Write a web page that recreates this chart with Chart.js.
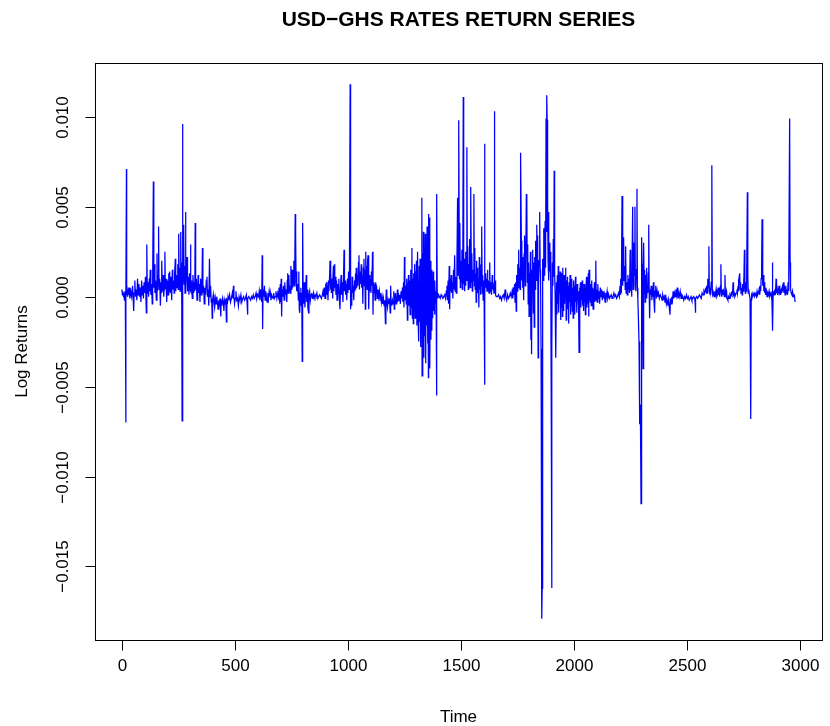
<!DOCTYPE html>
<html>
<head>
<meta charset="utf-8">
<script src="https://cdn.jsdelivr.net/npm/chart.js@4.4.0/dist/chart.umd.min.js"></script>
<style>
html,body{margin:0;padding:0;background:#ffffff;}
#wrap{width:830px;height:726px;position:relative;}
</style>
</head>
<body>
<div id="wrap"><canvas id="c" width="830" height="726"></canvas></div>
<script>
const timeIndex = [
1,3,5,8,10,12,14,16,18,19,
21,22,24,26,28,30,33,36,40,44,
48,50,53,55,58,61,64,67,70,73,
76,79,82,85,88,91,94,96,99,102,
105,107,109,111,113,116,119,122,124,126,
129,132,135,137,140,142,145,147,150,153,
156,158,161,163,165,168,171,174,176,178,
180,183,186,189,191,193,196,199,202,205,
208,210,212,215,218,221,224,226,229,232,
234,237,239,242,245,248,250,252,254,256,
258,261,263,265,267,268,270,271,273,274,
276,278,280,282,284,286,289,291,294,297,
300,302,304,306,309,312,315,318,321,323,
325,327,330,333,336,338,340,343,346,349,
352,355,357,359,362,365,368,371,374,377,
379,382,385,388,391,393,396,398,400,402,
405,408,411,414,417,420,423,426,429,432,
435,438,440,443,446,449,452,454,457,460,
463,465,468,470,473,477,481,485,489,492,
494,496,499,502,505,508,512,516,519,523,
527,531,535,539,543,547,551,554,556,558,
562,566,570,574,578,582,586,590,594,597,
601,605,608,611,614,617,619,621,623,625,
628,631,634,637,640,643,646,649,652,655,
657,660,663,666,669,672,675,678,682,686,
690,693,696,699,701,703,705,707,709,712,
715,718,721,724,727,730,732,734,736,739,
741,744,746,748,750,752,754,756,758,761,
763,765,767,769,771,773,775,778,781,783,
785,787,789,792,794,796,798,800,802,804,
807,810,813,816,818,821,823,826,828,831,
834,837,840,843,845,848,851,855,859,863,
867,871,875,879,883,887,890,893,896,899,
901,903,905,907,910,912,914,916,919,921,
923,925,927,930,932,934,936,938,940,942,
945,947,950,952,955,957,960,962,965,967,
970,972,975,978,980,983,985,988,990,993,
995,998,1000,1003,1005,1007,1010,1011,1013,1015,
1017,1019,1021,1024,1026,1029,1031,1034,1035,1037,
1039,1042,1044,1047,1049,1051,1054,1056,1059,1061,
1064,1066,1068,1071,1073,1075,1077,1079,1081,1083,
1085,1087,1089,1091,1093,1095,1097,1100,1102,1104,
1106,1109,1111,1113,1115,1118,1120,1122,1124,1127,
1130,1133,1136,1139,1142,1145,1148,1151,1154,1157,
1160,1163,1166,1168,1170,1172,1175,1178,1181,1184,
1187,1189,1191,1194,1197,1200,1203,1205,1207,1210,
1213,1216,1219,1221,1223,1226,1229,1232,1235,1238,
1241,1243,1246,1248,1250,1252,1255,1258,1260,1263,
1265,1268,1270,1273,1275,1278,1280,1283,1285,1287,
1289,1291,1293,1295,1297,1299,1301,1303,1305,1308,
1310,1313,1315,1317,1319,1321,1323,1325,1327,1328,
1330,1332,1334,1336,1338,1340,1342,1344,1346,1348,
1350,1352,1354,1356,1357,1359,1361,1363,1365,1367,
1369,1371,1373,1375,1377,1379,1381,1383,1385,1387,
1390,1392,1393,1395,1398,1401,1405,1408,1412,1416,
1420,1424,1428,1432,1435,1438,1440,1443,1445,1448,
1450,1452,1454,1457,1459,1462,1464,1467,1469,1472,
1474,1477,1479,1482,1485,1487,1489,1491,1493,1495,
1497,1499,1501,1504,1506,1508,1510,1512,1514,1516,
1518,1520,1522,1524,1526,1528,1530,1532,1534,1536,
1538,1540,1542,1544,1546,1548,1550,1552,1554,1557,
1559,1561,1563,1565,1567,1569,1571,1573,1575,1577,
1579,1581,1583,1585,1587,1589,1591,1592,1594,1596,
1598,1600,1602,1604,1605,1606,1608,1610,1612,1615,
1617,1619,1621,1624,1627,1629,1632,1635,1638,1640,
1643,1646,1648,1649,1651,1653,1656,1661,1666,1671,
1675,1679,1683,1687,1691,1695,1698,1702,1706,1710,
1714,1718,1722,1726,1729,1732,1734,1737,1739,1742,
1744,1746,1748,1751,1753,1755,1757,1759,1761,1762,
1765,1767,1769,1771,1773,1775,1777,1779,1780,1782,
1784,1786,1789,1791,1793,1795,1797,1799,1801,1803,
1805,1807,1809,1811,1812,1814,1816,1818,1820,1822,
1824,1826,1828,1830,1832,1835,1837,1839,1841,1843,
1845,1848,1850,1852,1854,1856,1858,1859,1860,1862,
1864,1866,1868,1870,1872,1874,1876,1878,1880,1881,
1883,1885,1887,1889,1891,1893,1895,1897,1899,1901,
1902,1904,1906,1908,1910,1912,1914,1916,1918,1920,
1922,1924,1926,1928,1930,1932,1934,1936,1938,1940,
1942,1944,1946,1948,1950,1952,1954,1956,1958,1960,
1963,1965,1967,1969,1970,1972,1974,1976,1978,1980,
1982,1984,1986,1988,1990,1992,1994,1996,1998,2000,
2002,2004,2006,2008,2010,2012,2014,2016,2018,2020,
2022,2024,2026,2028,2030,2032,2034,2036,2038,2040,
2042,2044,2046,2048,2050,2052,2055,2057,2059,2061,
2063,2065,2066,2068,2070,2072,2074,2076,2078,2080,
2082,2084,2086,2088,2090,2092,2094,2096,2098,2100,
2102,2105,2107,2110,2113,2116,2119,2122,2125,2128,
2131,2134,2137,2140,2143,2146,2149,2153,2157,2160,
2164,2168,2172,2176,2180,2184,2188,2192,2196,2200,
2203,2205,2207,2209,2212,2214,2216,2219,2221,2224,
2226,2228,2230,2233,2235,2238,2240,2243,2245,2248,
2250,2252,2254,2256,2259,2261,2264,2267,2269,2271,
2273,2275,2278,2280,2282,2284,2287,2290,2293,2296,
2298,2299,2301,2303,2305,2307,2308,2310,2312,2314,
2316,2318,2320,2322,2324,2326,2328,2330,2332,2334,
2336,2338,2341,2344,2346,2348,2351,2353,2356,2358,
2361,2364,2367,2370,2373,2377,2381,2385,2389,2392,
2396,2399,2402,2405,2408,2411,2415,2418,2421,2424,
2426,2429,2432,2435,2438,2441,2444,2447,2450,2453,
2456,2459,2462,2465,2469,2473,2477,2481,2485,2489,
2493,2497,2501,2505,2509,2513,2517,2521,2525,2529,
2533,2535,2536,2538,2542,2546,2550,2554,2558,2562,
2566,2570,2574,2577,2580,2583,2586,2588,2590,2592,
2594,2596,2598,2600,2602,2604,2606,2609,2611,2613,
2616,2619,2622,2625,2628,2631,2634,2637,2639,2642,
2644,2647,2649,2651,2653,2656,2658,2661,2664,2667,
2669,2671,2674,2677,2680,2683,2686,2689,2692,2695,
2698,2701,2703,2705,2708,2711,2714,2717,2720,2722,
2725,2726,2729,2732,2734,2736,2738,2741,2743,2745,
2747,2749,2751,2753,2755,2757,2759,2761,2763,2766,
2768,2770,2772,2775,2778,2781,2783,2785,2788,2791,
2794,2797,2800,2803,2806,2809,2812,2815,2818,2821,
2823,2825,2827,2829,2831,2833,2835,2837,2839,2841,
2843,2845,2847,2850,2853,2856,2859,2862,2865,2868,
2871,2873,2875,2877,2878,2880,2882,2884,2887,2890,
2893,2895,2898,2900,2903,2906,2908,2911,2913,2915,
2918,2921,2923,2926,2928,2931,2933,2936,2938,2941,
2944,2946,2948,2950,2953,2955,2957,2960,2963,2966,
2969,2972,2974,2977
];
const logReturns = [
0.0004,0.0001,0.0003,0.0000,0.0002,-0.0002,0.0003,0.0001,-0.0070,0.0002,
0.0071,0.0001,0.0004,0.0000,0.0003,0.0001,0.0005,-0.0001,0.0003,0.0000,
0.0006,0.0001,-0.0008,0.0002,0.0009,0.0000,0.0004,-0.0002,0.0010,0.0001,
0.0007,0.0000,0.0005,-0.0003,0.0009,0.0001,0.0006,-0.0001,0.0008,0.0002,
0.0011,0.0000,-0.0009,0.0029,0.0002,0.0008,0.0000,0.0010,0.0003,0.0015,
0.0001,0.0007,-0.0004,0.0012,0.0064,0.0005,0.0018,0.0002,0.0009,-0.0002,
0.0024,0.0003,0.0011,0.0039,0.0004,0.0010,-0.0005,0.0008,0.0002,0.0020,
0.0003,0.0012,0.0000,0.0007,0.0025,0.0004,0.0010,-0.0003,0.0009,0.0001,
0.0013,0.0003,0.0014,0.0002,0.0011,-0.0002,0.0015,0.0004,0.0009,0.0002,
0.0013,0.0021,0.0003,0.0012,0.0005,0.0018,0.0004,0.0035,0.0006,0.0016,
0.0003,0.0036,0.0005,0.0019,-0.0069,0.0004,0.0096,0.0006,0.0021,0.0040,
0.0007,0.0017,0.0002,0.0047,0.0004,0.0014,0.0022,0.0003,0.0011,0.0001,
0.0013,0.0004,0.0029,0.0003,0.0009,-0.0001,0.0012,0.0002,0.0008,0.0003,
0.0041,0.0004,0.0010,-0.0002,0.0006,0.0012,0.0002,0.0007,-0.0003,0.0010,
0.0001,0.0008,0.0027,0.0002,0.0006,-0.0004,0.0005,0.0001,0.0009,0.0011,
0.0000,0.0004,-0.0005,0.0021,0.0000,0.0006,-0.0003,-0.0001,-0.0012,-0.0002,
0.0001,-0.0003,-0.0006,-0.0001,-0.0004,0.0000,-0.0003,-0.0007,-0.0002,-0.0004,
-0.0001,-0.0011,-0.0002,-0.0005,-0.0001,-0.0003,-0.0008,-0.0002,-0.0004,-0.0001,
-0.0014,-0.0002,-0.0003,0.0000,-0.0002,0.0001,-0.0003,-0.0001,0.0002,-0.0001,
0.0006,0.0000,-0.0004,-0.0001,0.0003,-0.0002,-0.0001,-0.0005,0.0000,-0.0002,
0.0001,-0.0003,-0.0001,0.0000,-0.0002,-0.0001,0.0001,-0.0003,-0.0010,-0.0001,
0.0000,-0.0001,-0.0002,0.0000,-0.0001,0.0001,-0.0001,0.0000,0.0002,-0.0001,
0.0001,0.0000,0.0003,-0.0002,0.0004,0.0001,-0.0003,0.0023,-0.0018,0.0004,
0.0000,0.0006,-0.0002,0.0003,0.0000,-0.0003,0.0002,-0.0001,0.0003,0.0000,
0.0002,-0.0002,0.0001,0.0000,-0.0001,0.0002,-0.0001,0.0000,0.0003,-0.0001,
0.0002,0.0000,0.0005,-0.0004,0.0007,-0.0003,0.0010,-0.0011,0.0004,0.0000,
0.0006,-0.0002,0.0008,0.0001,0.0004,-0.0003,0.0009,0.0013,0.0002,0.0012,
0.0003,0.0006,0.0002,0.0017,0.0004,0.0011,0.0015,0.0005,0.0009,0.0020,
0.0006,0.0012,0.0046,0.0033,0.0008,0.0014,0.0003,0.0007,-0.0002,0.0014,
-0.0007,-0.0009,0.0002,0.0005,-0.0005,0.0002,-0.0036,0.0041,0.0005,-0.0004,
0.0008,-0.0006,0.0003,0.0012,-0.0003,0.0004,-0.0006,-0.0009,0.0001,0.0003,
-0.0002,0.0001,0.0002,-0.0001,0.0000,0.0002,-0.0001,0.0001,0.0000,0.0002,
-0.0001,0.0000,0.0001,0.0000,-0.0001,0.0001,0.0003,0.0000,0.0005,-0.0001,
0.0007,0.0002,0.0008,0.0001,0.0006,-0.0002,0.0009,0.0003,0.0011,0.0020,
0.0004,0.0013,0.0002,0.0010,-0.0001,0.0008,0.0017,0.0003,0.0018,0.0005,
0.0011,0.0001,0.0009,-0.0002,0.0007,0.0002,0.0010,0.0000,-0.0007,0.0004,
0.0012,0.0001,0.0008,-0.0003,0.0006,0.0026,0.0003,0.0009,0.0001,0.0007,
-0.0002,0.0010,0.0002,0.0014,0.0004,0.0020,0.0118,0.0003,-0.0007,0.0004,
-0.0005,0.0011,0.0002,0.0006,-0.0002,0.0009,0.0003,0.0013,0.0004,0.0016,
0.0005,0.0012,0.0006,0.0019,0.0023,0.0004,0.0014,0.0007,0.0018,0.0005,
0.0012,-0.0004,0.0016,0.0021,0.0006,0.0015,-0.0007,0.0025,0.0008,0.0017,
0.0004,0.0020,0.0023,0.0005,-0.0007,0.0012,0.0003,0.0010,0.0002,0.0014,
0.0006,0.0025,-0.0010,0.0008,0.0002,0.0007,-0.0002,0.0008,0.0003,0.0005,
-0.0001,0.0004,0.0000,0.0003,-0.0002,0.0002,-0.0003,0.0000,-0.0004,-0.0001,
-0.0005,-0.0002,-0.0015,-0.0002,0.0004,-0.0003,-0.0006,-0.0002,-0.0004,-0.0001,
-0.0009,0.0006,-0.0003,-0.0005,-0.0002,-0.0004,0.0003,-0.0007,-0.0002,0.0002,
-0.0004,-0.0001,0.0004,-0.0003,0.0002,-0.0002,0.0001,-0.0004,0.0003,-0.0001,
0.0005,-0.0003,0.0008,-0.0006,0.0022,-0.0002,0.0006,-0.0004,0.0010,-0.0013,
0.0004,0.0012,-0.0005,0.0009,-0.0010,0.0015,-0.0006,0.0027,-0.0012,0.0010,
-0.0015,0.0013,-0.0008,0.0018,-0.0012,0.0014,-0.0009,0.0020,-0.0016,0.0025,
-0.0011,-0.0025,0.0017,-0.0014,0.0021,-0.0028,0.0019,-0.0020,0.0055,-0.0044,
0.0024,-0.0018,0.0036,-0.0034,0.0028,-0.0022,0.0035,-0.0037,0.0030,-0.0016,
0.0039,-0.0026,0.0032,-0.0045,0.0046,-0.0030,0.0044,-0.0040,0.0020,-0.0024,
0.0015,-0.0019,0.0010,-0.0012,0.0014,-0.0008,0.0006,-0.0010,0.0009,-0.0004,
0.0003,-0.0055,0.0057,0.0002,-0.0001,0.0001,0.0000,-0.0001,0.0001,0.0000,
-0.0001,0.0000,0.0001,-0.0001,0.0003,0.0006,-0.0002,0.0009,-0.0004,0.0017,
-0.0007,0.0010,0.0003,0.0012,0.0002,0.0008,-0.0001,0.0015,0.0004,0.0023,
0.0003,0.0011,0.0002,0.0018,0.0055,0.0012,0.0030,0.0098,0.0010,0.0041,
0.0005,0.0020,0.0008,0.0026,0.0004,0.0016,0.0111,0.0007,0.0021,0.0003,
0.0014,0.0006,0.0025,0.0009,0.0083,0.0012,0.0028,0.0004,0.0018,0.0007,
0.0032,0.0005,0.0019,0.0061,0.0008,0.0024,0.0003,0.0015,0.0009,0.0057,
0.0006,0.0027,0.0004,0.0013,-0.0003,0.0020,0.0005,0.0016,0.0002,0.0010,
-0.0006,0.0022,0.0004,0.0014,0.0001,0.0018,0.0006,0.0039,0.0002,0.0012,
-0.0002,0.0009,0.0003,-0.0049,0.0085,0.0002,0.0013,0.0005,0.0010,0.0003,
0.0015,0.0004,0.0009,0.0002,0.0019,0.0003,0.0008,0.0001,0.0012,0.0004,
0.0006,0.0002,0.0103,0.0003,0.0009,0.0001,0.0000,0.0000,0.0001,-0.0001,
0.0000,-0.0002,0.0000,0.0001,-0.0001,0.0004,0.0000,-0.0002,0.0001,-0.0001,
0.0000,0.0002,0.0000,0.0003,-0.0001,0.0005,0.0001,0.0007,-0.0003,0.0008,
-0.0008,0.0012,0.0003,0.0018,0.0005,0.0026,0.0008,0.0016,0.0004,0.0034,
0.0080,0.0031,0.0009,0.0022,0.0005,0.0017,-0.0002,0.0024,0.0011,0.0034,
0.0006,0.0015,0.0057,0.0054,0.0008,0.0029,-0.0004,0.0019,-0.0011,0.0013,
-0.0007,0.0025,-0.0024,0.0006,-0.0032,0.0015,0.0003,0.0026,-0.0009,0.0019,
-0.0017,0.0022,0.0004,0.0031,0.0009,0.0040,0.0018,0.0034,-0.0034,0.0012,
0.0020,0.0047,0.0015,0.0006,-0.0029,-0.0101,-0.0179,-0.0162,-0.0076,0.0021,
0.0009,0.0038,0.0012,0.0024,0.0042,0.0016,0.0099,0.0036,0.0112,0.0098,
0.0053,0.0020,0.0047,0.0009,0.0030,0.0014,0.0025,0.0005,-0.0060,-0.0162,
-0.0028,0.0019,0.0006,0.0032,0.0011,0.0070,0.0014,0.0002,-0.0016,-0.0034,
0.0008,-0.0010,0.0012,-0.0004,0.0017,-0.0009,0.0010,0.0002,0.0014,-0.0013,
0.0008,-0.0006,0.0013,-0.0011,0.0016,0.0003,-0.0008,0.0012,-0.0004,0.0010,
0.0016,-0.0013,0.0009,-0.0002,0.0011,-0.0007,0.0006,-0.0015,0.0008,-0.0003,
0.0012,-0.0010,0.0007,-0.0005,0.0010,-0.0008,0.0005,-0.0012,0.0009,-0.0006,
0.0006,-0.0010,0.0011,-0.0003,0.0004,-0.0009,0.0007,-0.0002,0.0003,-0.0007,
-0.0031,0.0005,-0.0004,0.0008,-0.0006,0.0006,-0.0002,0.0009,-0.0005,0.0004,
-0.0008,0.0007,-0.0003,0.0005,-0.0010,0.0003,0.0011,-0.0006,0.0008,-0.0004,
0.0013,-0.0011,0.0015,-0.0002,0.0006,-0.0003,0.0007,-0.0005,0.0009,-0.0002,
0.0005,-0.0007,0.0004,-0.0001,0.0008,-0.0003,0.0006,0.0020,-0.0002,0.0004,
-0.0003,0.0007,-0.0001,0.0003,-0.0004,0.0005,0.0000,0.0004,-0.0002,0.0003,
-0.0001,0.0001,-0.0003,0.0002,0.0000,0.0003,-0.0001,0.0001,-0.0001,0.0000,
0.0001,-0.0001,0.0000,0.0002,0.0000,0.0001,-0.0001,0.0000,0.0002,0.0000,
0.0006,0.0001,0.0010,0.0002,0.0056,0.0035,0.0006,0.0033,0.0009,0.0017,
0.0004,0.0028,0.0002,0.0008,0.0001,0.0012,0.0004,0.0010,0.0002,0.0026,
0.0003,0.0009,0.0000,0.0006,0.0050,0.0004,0.0030,0.0012,0.0050,0.0006,
0.0003,0.0015,0.0060,0.0005,-0.0002,-0.0010,-0.0025,-0.0071,-0.0060,-0.0115,
-0.0030,0.0033,0.0018,-0.0005,-0.0040,0.0008,0.0030,0.0002,0.0015,-0.0003,
0.0012,0.0004,0.0016,-0.0001,0.0007,0.0002,0.0013,0.0040,0.0003,-0.0012,
0.0004,0.0001,0.0006,-0.0002,0.0004,0.0000,0.0008,-0.0002,-0.0009,0.0003,
0.0006,-0.0001,0.0003,0.0000,0.0002,-0.0001,0.0001,0.0000,-0.0002,0.0001,
-0.0001,0.0000,-0.0003,0.0001,-0.0004,-0.0002,-0.0005,-0.0002,-0.0006,-0.0010,
-0.0001,-0.0004,0.0000,-0.0002,0.0003,-0.0001,0.0002,0.0000,0.0004,0.0001,
0.0005,-0.0001,0.0002,0.0000,0.0003,-0.0001,0.0001,0.0000,-0.0002,0.0000,
-0.0001,0.0001,-0.0001,0.0000,-0.0002,-0.0001,0.0000,-0.0002,-0.0001,0.0000,
-0.0001,-0.0003,-0.0009,-0.0001,0.0000,-0.0001,0.0000,0.0001,0.0000,-0.0001,
0.0002,0.0001,0.0003,0.0002,0.0004,0.0003,0.0006,0.0002,0.0010,0.0004,
0.0007,0.0028,0.0003,0.0002,0.0005,0.0001,0.0008,0.0073,0.0004,0.0001,
0.0002,0.0000,0.0003,0.0001,0.0004,0.0000,0.0001,0.0005,0.0001,0.0003,
0.0000,0.0006,0.0018,0.0002,0.0000,0.0004,0.0001,0.0003,0.0000,0.0012,
0.0002,0.0001,0.0003,-0.0001,-0.0002,0.0000,-0.0001,0.0001,0.0000,0.0002,
0.0001,0.0003,0.0008,0.0001,0.0002,0.0000,0.0001,0.0002,0.0004,0.0002,
0.0006,0.0003,0.0009,0.0013,0.0004,0.0008,0.0002,0.0005,0.0001,0.0007,
0.0003,0.0010,0.0004,0.0026,0.0006,0.0002,0.0008,0.0003,0.0013,0.0058,
0.0012,0.0002,0.0004,0.0001,-0.0001,-0.0068,-0.0002,0.0001,0.0000,0.0002,
0.0001,0.0000,0.0002,0.0001,0.0000,0.0003,0.0001,0.0002,0.0004,0.0001,
0.0006,0.0003,0.0010,0.0014,0.0043,0.0011,0.0006,0.0012,0.0003,0.0008,
0.0002,0.0005,0.0001,0.0003,0.0000,0.0002,0.0001,0.0003,0.0000,0.0001,
0.0002,0.0000,-0.0003,0.0019,-0.0019,0.0002,0.0003,0.0001,0.0004,0.0001,
0.0010,0.0002,0.0004,0.0001,0.0003,0.0006,0.0002,0.0003,0.0001,0.0004,
0.0002,0.0005,0.0003,0.0008,0.0002,0.0004,0.0001,0.0006,0.0002,0.0004,
0.0001,0.0008,0.0003,0.0012,0.0099,0.0019,0.0004,0.0002,0.0001,0.0003,
0.0000,0.0001,0.0001,-0.0003
];
const xTicks = [0, 500, 1000, 1500, 2000, 2500, 3000];
const xTickLabels = ["0", "500", "1000", "1500", "2000", "2500", "3000"];
const yTicks = [-0.015, -0.010, -0.005, 0.000, 0.005, 0.010];
const yTickLabels = ["\u22120.015", "\u22120.010", "\u22120.005", "0.000", "0.005", "0.010"];
const titleText = "USD\u2212GHS RATES RETURN SERIES";
const xTitle = "Time";
const yTitle = "Log Returns";

if (timeIndex.length !== logReturns.length) console.error("length mismatch", timeIndex.length, logReturns.length);

// R-style axis ranges: data range extended by 4% on each side
const tMin = Math.min(...timeIndex), tMax = Math.max(...timeIndex);
const rMin = Math.min(...logReturns), rMax = Math.max(...logReturns);
const xPad = (tMax - tMin) * 0.04, yPad = (rMax - rMin) * 0.04;

const FONT = '"Liberation Sans", Arial, Helvetica, sans-serif';

const rFrame = {
  id: 'rFrame',
  afterDraw(chart) {
    const ctx = chart.ctx;
    const a = chart.chartArea;
    const xs = chart.scales.x, ys = chart.scales.y;
    ctx.save();
    ctx.strokeStyle = '#000';
    ctx.lineWidth = 1;
    ctx.strokeRect(Math.round(a.left) + 0.5, Math.round(a.top) + 0.5,
                   Math.round(a.right - a.left), Math.round(a.bottom - a.top));
    ctx.fillStyle = '#000';
    ctx.font = '17px ' + FONT;
    // x axis ticks
    ctx.textAlign = 'center';
    ctx.textBaseline = 'middle';
    const by = Math.round(a.bottom) + 0.5;
    xTicks.forEach((v, i) => {
      const px = Math.round(xs.getPixelForValue(v)) + 0.5;
      ctx.beginPath(); ctx.moveTo(px, by); ctx.lineTo(px, by + 10); ctx.stroke();
      ctx.fillText(xTickLabels[i], px, a.bottom + 26);
    });
    // y axis ticks
    const lx = Math.round(a.left) + 0.5;
    yTicks.forEach((v, i) => {
      const py = Math.round(ys.getPixelForValue(v)) + 0.5;
      ctx.beginPath(); ctx.moveTo(lx, py); ctx.lineTo(lx - 10, py); ctx.stroke();
      ctx.save();
      ctx.translate(a.left - 32, py);
      ctx.rotate(-Math.PI / 2);
      ctx.fillText(yTickLabels[i], 0, 0);
      ctx.restore();
    });
    const cx = (a.left + a.right) / 2, cy = (a.top + a.bottom) / 2;
    // axis titles
    ctx.fillText(xTitle, cx, a.bottom + 77);
    ctx.save();
    ctx.translate(22, cy);
    ctx.rotate(-Math.PI / 2);
    ctx.fillText(yTitle, 0, 0);
    ctx.restore();
    // main title
    ctx.font = 'bold 21px ' + FONT;
    ctx.fillText(titleText, cx, 20);
    ctx.restore();
  }
};

new Chart(document.getElementById('c'), {
  type: 'line',
  data: {
    datasets: [{
      data: timeIndex.map((t, i) => ({ x: t, y: logReturns[i] })),
      borderColor: '#0000ff',
      borderWidth: 1.25,
      pointRadius: 0,
      fill: false,
      tension: 0
    }]
  },
  options: {
    responsive: false,
    animation: false,
    parsing: false,
    normalized: true,
    layout: { padding: { left: 95, right: 8, top: 63, bottom: 86 } },
    scales: {
      x: { type: 'linear', min: tMin - xPad, max: tMax + xPad, display: false },
      y: { type: 'linear', min: rMin - yPad, max: rMax + yPad, display: false }
    },
    plugins: { legend: { display: false }, tooltip: { enabled: false } }
  },
  plugins: [rFrame]
});
</script>
</body>
</html>
